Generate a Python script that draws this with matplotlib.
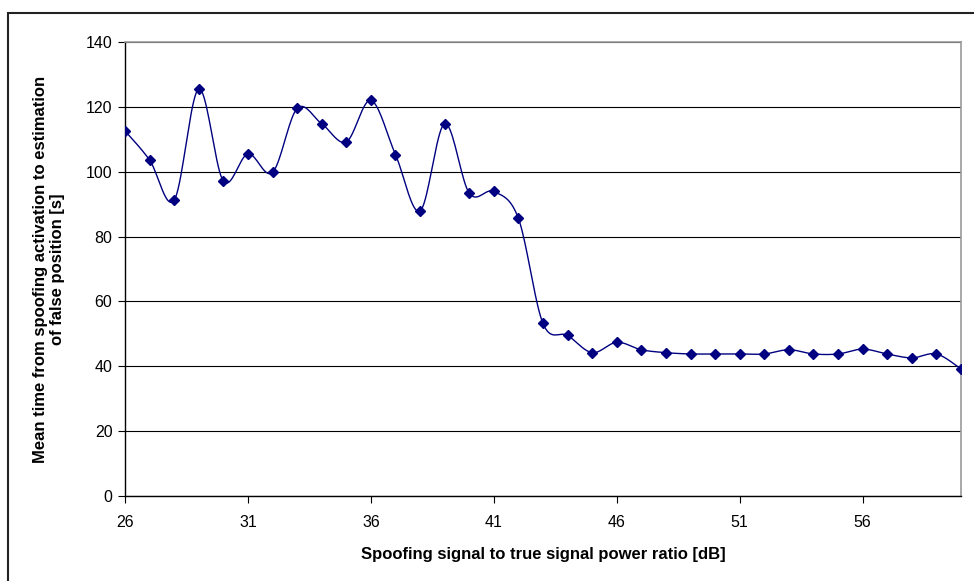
import matplotlib.pyplot as plt
import numpy as np

plt.rcParams['font.family'] = ['Liberation Sans', 'DejaVu Sans']

# power ratio [dB] and mean time [s]
ratio_db = list(range(26, 61))
mean_time = [112.6, 103.6, 91.2, 125.5, 97.1, 105.5, 99.8, 119.5, 114.8, 109.2,
             122.0, 105.3, 87.9, 114.8, 93.4, 93.9, 85.6, 53.2, 49.5, 44.2,
             47.4, 45.1, 44.2, 43.8, 43.8, 43.8, 43.8, 45.1, 43.8, 43.8,
             45.3, 43.8, 42.6, 43.8, 39.2]
x_ticks = [26, 31, 36, 41, 46, 51, 56]
y_ticks = [0, 20, 40, 60, 80, 100, 120, 140]


def smooth(x, y, n=20):
    # Excel-style smoothed line: cubic bezier through points
    x = np.asarray(x, float)
    y = np.asarray(y, float)
    xs, ys = [], []
    for i in range(len(x) - 1):
        p0 = (x[max(i - 1, 0)], y[max(i - 1, 0)])
        p1 = (x[i], y[i])
        p2 = (x[i + 1], y[i + 1])
        p3 = (x[min(i + 2, len(x) - 1)], y[min(i + 2, len(x) - 1)])
        c1 = (p1[0] + (p2[0] - p0[0]) / 6, p1[1] + (p2[1] - p0[1]) / 6)
        c2 = (p2[0] - (p3[0] - p1[0]) / 6, p2[1] - (p3[1] - p1[1]) / 6)
        t = np.linspace(0, 1, n)
        a = (1 - t) ** 3
        b = 3 * (1 - t) ** 2 * t
        c = 3 * (1 - t) * t ** 2
        d = t ** 3
        xs.extend(a * p1[0] + b * c1[0] + c * c2[0] + d * p2[0])
        ys.extend(a * p1[1] + b * c1[1] + c * c2[1] + d * p2[1])
    return xs, ys


fig = plt.figure(figsize=(9.74, 5.81), dpi=100)
ax = fig.add_axes([125 / 974, 1 - 496 / 581, (961 - 125) / 974, (496 - 42) / 581])

# chart area border
fig.patches.append(plt.Rectangle((8 / 974, -0.01), 1.0, 1 - 13 / 581 + 0.01,
                                 transform=fig.transFigure, fill=False,
                                 edgecolor='#222222', linewidth=1.5))

sx, sy = smooth(ratio_db, mean_time)
ax.plot(sx, sy, color='#000080', linewidth=1.0, zorder=3)
ax.plot(ratio_db, mean_time, linestyle='none', marker='D', markersize=5.5,
        color='#000080', zorder=4)

ax.set_xlim(26, 60)
ax.set_ylim(0, 140)
ax.set_xticks(x_ticks)
ax.set_yticks(y_ticks)
ax.tick_params(labelsize=11.5, direction='out', length=5, width=0.8, colors='black')
ax.tick_params(axis='x', pad=9)
ax.tick_params(axis='y', pad=4)

ax.grid(axis='y', color='black', linewidth=0.8)
ax.set_axisbelow(True)

for s in ['left', 'bottom']:
    ax.spines[s].set_color('black')
    ax.spines[s].set_linewidth(1.0)
for s in ['top', 'right']:
    ax.spines[s].set_color('#999999')
    ax.spines[s].set_linewidth(1.2)

ax.set_xlabel('Spoofing signal to true signal power ratio [dB]',
              fontsize=12, fontweight='bold', labelpad=12)
ax.set_ylabel('Mean time from spoofing activation to estimation\nof false position [s]',
              fontsize=12, fontweight='bold', labelpad=15, linespacing=1.2)

fig.savefig('out.png', dpi=100)
